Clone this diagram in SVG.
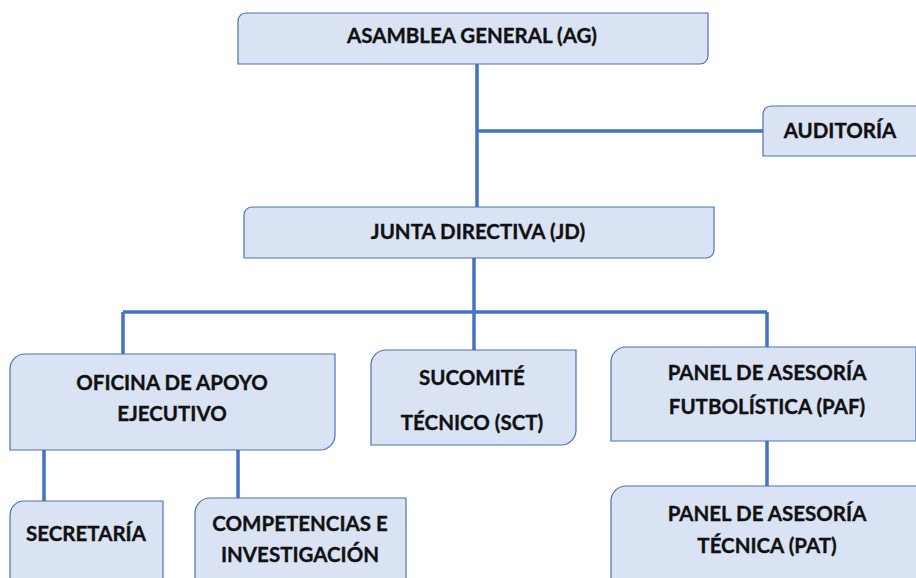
<svg xmlns="http://www.w3.org/2000/svg" width="916" height="578" viewBox="0 0 916 578">
<style>
.box{fill:#dae3f3;stroke:#4a72b8;stroke-width:1.2}
.t{font-family:Lato,"Liberation Sans",sans-serif;font-weight:bold;font-size:20.5px;fill:#111;stroke:#111;stroke-width:0.35;text-anchor:middle}
.c{fill:none;stroke:#4472c4;stroke-width:3.5}
</style>
<rect width="916" height="578" fill="#fff"/>
<g id="connectors">
<path class="c" d="M477,64 V207 M477,131 H763"/>
<path class="c" d="M474,258 V350 M123,312 H767 M123,312 V354 M767,312 V347"/>
<path class="c" d="M44,450 V501 M238,450 V498"/>
<path class="c" d="M767,441 V486"/>
</g>
<g id="ag">
<path class="box" d="M246,13 H708 V56 A8,8 0 0 1 700,64 H238 V21 A8,8 0 0 1 246,13 Z"/>
<text class="t" x="472" y="43">ASAMBLEA GENERAL (AG)</text>
</g>
<g id="auditoria">
<path class="box" d="M771,106 H920 V156 H763 V114 A8,8 0 0 1 771,106 Z"/>
<text class="t" x="840" y="138">AUDITORÍA</text>
</g>
<g id="jd">
<path class="box" d="M252,207 H714 V250 A8,8 0 0 1 706,258 H244 V215 A8,8 0 0 1 252,207 Z"/>
<text class="t" x="478" y="239">JUNTA DIRECTIVA (JD)</text>
</g>
<g id="oficina">
<path class="box" d="M25,354 H335 V435 A15,15 0 0 1 320,450 H10 V369 A15,15 0 0 1 25,354 Z"/>
<text class="t" x="172" y="390">OFICINA DE APOYO</text>
<text class="t" x="172" y="421">EJECUTIVO</text>
</g>
<g id="sct">
<path class="box" d="M386,350 H576 V430 A15,15 0 0 1 561,445 H371 V365 A15,15 0 0 1 386,350 Z"/>
<text class="t" x="472" y="385">SUCOMITÉ</text>
<text class="t" x="472" y="430">TÉCNICO (SCT)</text>
</g>
<g id="paf">
<path class="box" d="M626,347 H916 V441 H611 V362 A15,15 0 0 1 626,347 Z"/>
<text class="t" x="767" y="380">PANEL DE ASESORÍA</text>
<text class="t" x="767" y="414">FUTBOLÍSTICA (PAF)</text>
</g>
<g id="secretaria">
<path class="box" d="M24,501 H163 V590 H10 V515 A14,14 0 0 1 24,501 Z"/>
<text class="t" x="86" y="541">SECRETARÍA</text>
</g>
<g id="competencias">
<path class="box" d="M210,498 H406 V590 H195 V513 A15,15 0 0 1 210,498 Z"/>
<text class="t" x="300" y="531">COMPETENCIAS E</text>
<text class="t" x="300" y="562">INVESTIGACIÓN</text>
</g>
<g id="pat">
<path class="box" d="M626,486 H920 V590 H611 V501 A15,15 0 0 1 626,486 Z"/>
<text class="t" x="767" y="521">PANEL DE ASESORÍA</text>
<text class="t" x="767" y="553">TÉCNICA (PAT)</text>
</g>
</svg>
